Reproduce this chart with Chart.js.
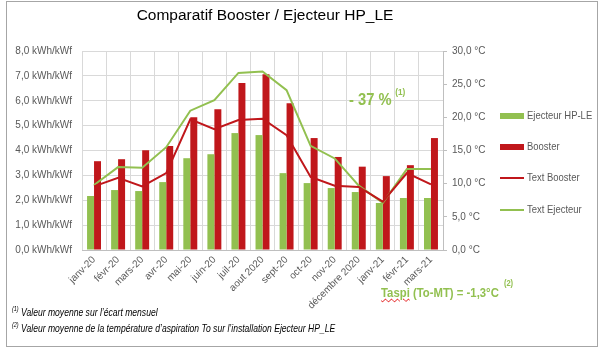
<!DOCTYPE html>
<html lang="fr">
<head>
<meta charset="UTF-8">
<title>Comparatif Booster / Ejecteur HP_LE</title>
<style>
  body { margin: 0; background: #fff; }
  #wrap { position: relative; width: 604px; height: 354px; overflow: hidden; font-family: "Liberation Sans", Arial, sans-serif; }
  #frame { position: absolute; left: 6px; top: 1px; width: 590px; height: 344px; border: 1px solid #a6a6a6; }
  canvas { position: absolute; left: 0; top: 0; }
  .abs { position: absolute; white-space: nowrap; }
  #title { left: 0; width: 530px; top: 6px; text-align: center; font-size: 15.5px; color: #000; }
  .leg { position: absolute; left: 500px; font-size: 11px; color: #595959; white-space: nowrap; }
  .leg span { position: absolute; left: 0; width: 24px; }
  .leg b { position: absolute; left: 27px; font-weight: normal; top: -7px; white-space: nowrap; transform: scaleX(0.86); transform-origin: left top; }
  .green { color: #92c050; font-weight: bold; transform-origin: left top; }
  sup { font-size: 8px; }
  .note { left: 12px; font-size: 11px; font-style: italic; color: #000; transform: scaleX(0.78); transform-origin: left top; }
  .note sup { font-size: 7px; }
</style>
</head>
<body>
<div id="wrap">
  <div id="frame"></div>
  <canvas id="myComboChart" width="604" height="354"></canvas>
  <div id="title" class="abs">Comparatif Booster / Ejecteur HP_LE</div>

  <div class="leg" style="top:116px"><span style="top:-3px;height:6px;background:#92c050"></span><b>Ejecteur HP-LE</b></div>
  <div class="leg" style="top:147px"><span style="top:-3px;height:6px;background:#c0171b"></span><b>Booster</b></div>
  <div class="leg" style="top:178px"><span style="top:-1px;height:2px;background:#c0171b"></span><b>Text Booster</b></div>
  <div class="leg" style="top:210px"><span style="top:-1px;height:2px;background:#92c050"></span><b>Text Ejecteur</b></div>

  <div class="abs green" style="left:349px;top:91px;font-size:16px;transform:scaleX(0.92)">- 37 %<sup style="position:relative;top:-4px;margin-left:4px;font-size:9px">(1)</sup></div>
  <div class="abs green" style="left:381px;top:283px;font-size:13.5px;transform:scaleX(0.84)"><span style="text-decoration:underline wavy #e00000;text-decoration-thickness:1px">Taspi</span> (To-MT) = -1,3°C<sup style="position:relative;top:-5px;margin-left:6px;font-size:9px">(2)</sup></div>

  <div class="abs note" style="top:305px"><sup>(1)</sup> Valeur moyenne sur l’écart mensuel</div>
  <div class="abs note" style="top:321px"><sup>(2)</sup> Valeur moyenne de la température d’aspiration To sur l’installation Ejecteur HP_LE</div>
</div>

<script src="https://cdn.jsdelivr.net/npm/chart.js"></script>
<script>
// mois
var labels = ['janv-20','févr-20','mars-20','avr-20','mai-20','juin-20','juil-20','aout 2020',
              'sept-20','oct-20','nov-20','décembre 2020','janv-21','févr-21','mars-21'];
// kWh/kWf
var ejecteur = [2.17,2.41,2.37,2.73,3.69,3.85,4.70,4.62,3.09,2.69,2.49,2.33,1.89,2.09,2.09];
var booster  = [3.57,3.65,4.01,4.18,5.34,5.66,6.71,7.07,5.90,4.50,3.74,3.35,2.97,3.41,4.50];
// °C
var textBooster  = [9.6,10.9,9.6,11.6,19.7,18.2,19.6,19.8,17.3,11.0,9.7,9.5,7.3,11.6,9.9];
var textEjecteur = [9.8,12.5,12.4,15.5,21.0,22.6,26.7,26.9,24.1,15.7,13.8,9.7,7.1,12.2,12.2];

var tickFont = { family: '"Liberation Sans", Arial, sans-serif', size: 10 };

function fmt(v) { return v.toFixed(1).replace('.', ','); }

new Chart(document.querySelector('#myComboChart'), {
    type: 'bar',
    data: {
        labels: labels,
        datasets: [
            { label: 'Ejecteur HP-LE', data: ejecteur, backgroundColor: '#92c050', yAxisID: 'y', order: 2,
              categoryPercentage: 0.58, barPercentage: 1 },
            { label: 'Booster', data: booster, backgroundColor: '#c0171b', yAxisID: 'y', order: 2,
              categoryPercentage: 0.58, barPercentage: 1 },
            { type: 'line', label: 'Text Booster', data: textBooster, borderColor: '#c0171b', borderWidth: 2,
              pointRadius: 0, tension: 0, yAxisID: 'y1', order: 1 },
            { type: 'line', label: 'Text Ejecteur', data: textEjecteur, borderColor: '#92c050', borderWidth: 2,
              pointRadius: 0, tension: 0, yAxisID: 'y1', order: 1 }
        ]
    },
    options: {
        responsive: false,
        animation: false,
        layout: { padding: { top: 51, left: 0, right: 0, bottom: 0 } },
        plugins: { legend: { display: false }, tooltip: { enabled: false } },
        scales: {
            x: {
                offset: true,
                grid: { offset: true, color: '#d9d9d9', drawTicks: false },
                border: { color: '#bfbfbf' },
                ticks: { font: tickFont, color: '#595959', minRotation: 45, maxRotation: 45, autoSkip: false, padding: 4 },
                afterFit: function (s) { s.height = 104; }
            },
            y: {
                position: 'left', min: 0, max: 8,
                grid: { color: '#d9d9d9', drawTicks: false },
                border: { display: false },
                ticks: { stepSize: 1, font: tickFont, color: '#595959', padding: 10,
                         callback: function (v) { return fmt(v) + ' kWh/kWf'; } },
                afterFit: function (s) { s.width = 82; }
            },
            y1: {
                position: 'right', min: 0, max: 30,
                grid: { drawOnChartArea: false, drawTicks: true, tickLength: 4, tickColor: '#bfbfbf' },
                border: { color: '#bfbfbf' },
                ticks: { stepSize: 5, font: tickFont, color: '#595959', padding: 5,
                         callback: function (v) { return fmt(v) + ' °C'; } },
                afterFit: function (s) { s.width = 161; }
            }
        }
    }
});
</script>
</body>
</html>
